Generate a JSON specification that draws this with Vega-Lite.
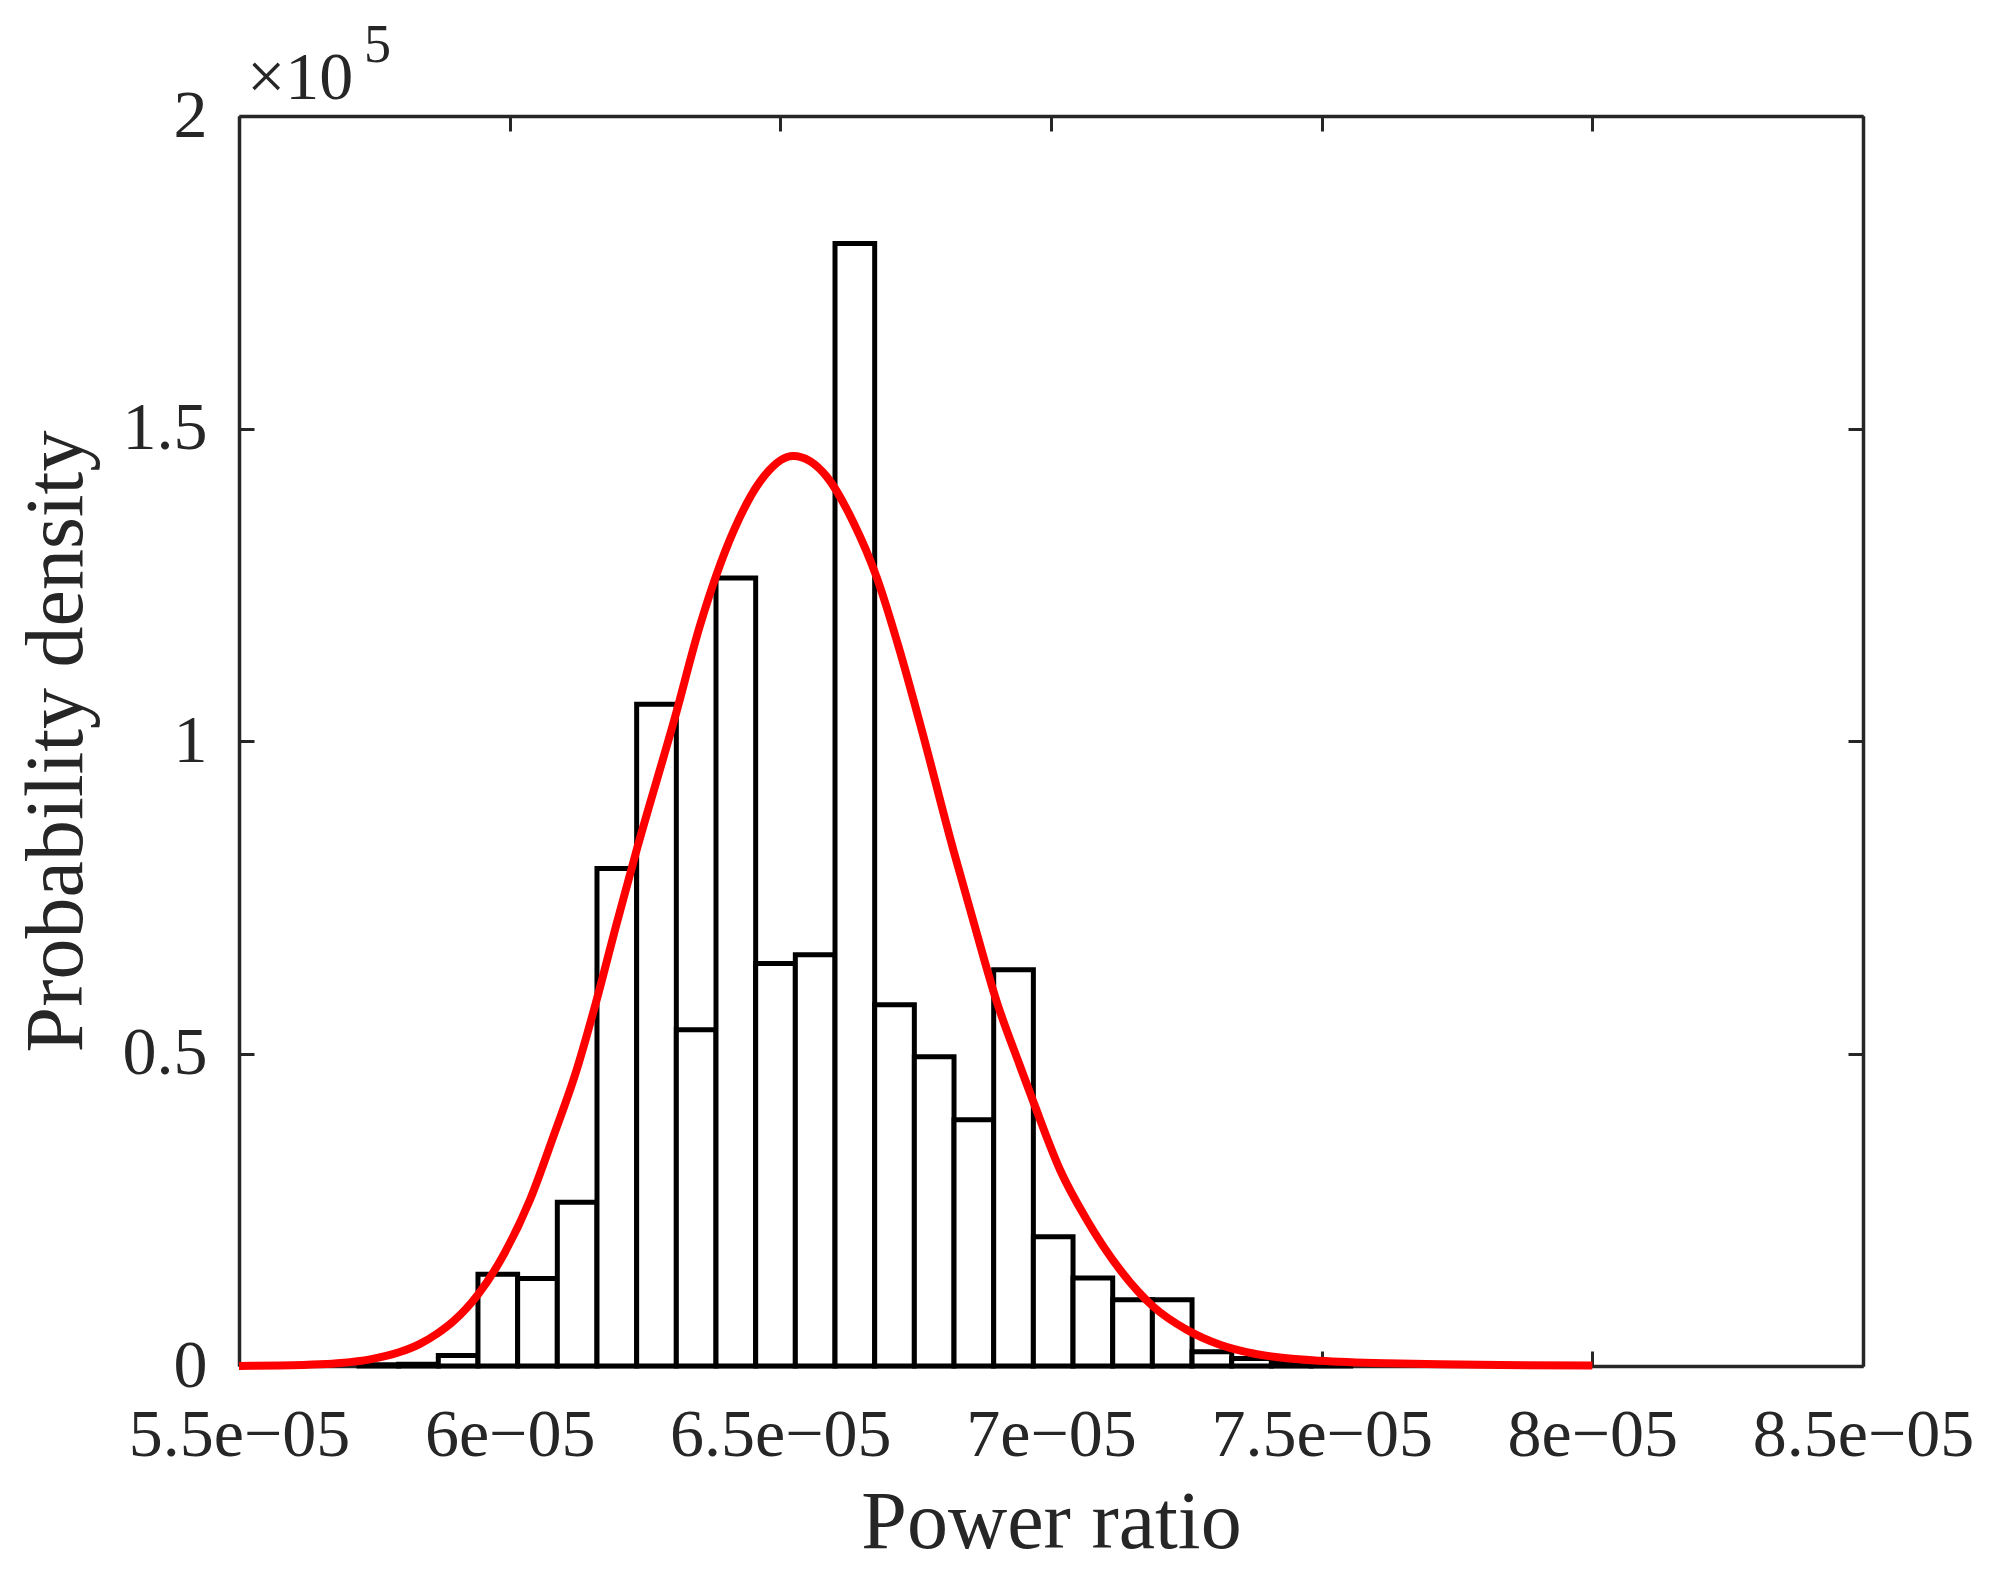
{
  "$schema": "https://vega.github.io/schema/vega-lite/v6.json",
  "autosize": {"type": "none"},
  "padding": {"left": 239, "top": 116, "right": 133, "bottom": 208},
  "width": 1624,
  "height": 1250,
  "background": "white",
  "datasets": {
    "bins": [
      {"x0": 5.72160e-5, "x1": 5.79488e-5, "density": 200},
      {"x0": 5.79488e-5, "x1": 5.86817e-5, "density": 300},
      {"x0": 5.86817e-5, "x1": 5.94145e-5, "density": 1680},
      {"x0": 5.94145e-5, "x1": 6.01473e-5, "density": 14700},
      {"x0": 6.01473e-5, "x1": 6.08802e-5, "density": 14000},
      {"x0": 6.08802e-5, "x1": 6.16130e-5, "density": 26200},
      {"x0": 6.16130e-5, "x1": 6.23458e-5, "density": 79600},
      {"x0": 6.23458e-5, "x1": 6.30787e-5, "density": 105900},
      {"x0": 6.30787e-5, "x1": 6.38115e-5, "density": 53800},
      {"x0": 6.38115e-5, "x1": 6.45443e-5, "density": 126100},
      {"x0": 6.45443e-5, "x1": 6.52772e-5, "density": 64400},
      {"x0": 6.52772e-5, "x1": 6.60100e-5, "density": 65800},
      {"x0": 6.60100e-5, "x1": 6.67428e-5, "density": 179600},
      {"x0": 6.67428e-5, "x1": 6.74757e-5, "density": 57800},
      {"x0": 6.74757e-5, "x1": 6.82085e-5, "density": 49500},
      {"x0": 6.82085e-5, "x1": 6.89413e-5, "density": 39400},
      {"x0": 6.89413e-5, "x1": 6.96742e-5, "density": 63400},
      {"x0": 6.96742e-5, "x1": 7.04070e-5, "density": 20700},
      {"x0": 7.04070e-5, "x1": 7.11398e-5, "density": 14100},
      {"x0": 7.11398e-5, "x1": 7.18727e-5, "density": 10600},
      {"x0": 7.18727e-5, "x1": 7.26055e-5, "density": 10600},
      {"x0": 7.26055e-5, "x1": 7.33383e-5, "density": 2300},
      {"x0": 7.33383e-5, "x1": 7.40712e-5, "density": 1200},
      {"x0": 7.40712e-5, "x1": 7.48040e-5, "density": 700},
      {"x0": 7.48040e-5, "x1": 7.55368e-5, "density": 600}
    ],
    "fit": [
      {"ratio": 5.5000e-5, "pdf": 20},
      {"ratio": 5.5757e-5, "pdf": 76},
      {"ratio": 5.6496e-5, "pdf": 264},
      {"ratio": 5.6884e-5, "pdf": 486},
      {"ratio": 5.7420e-5, "pdf": 1060},
      {"ratio": 5.7956e-5, "pdf": 2190},
      {"ratio": 5.8344e-5, "pdf": 3550},
      {"ratio": 5.8658e-5, "pdf": 5160},
      {"ratio": 5.8959e-5, "pdf": 7150},
      {"ratio": 5.9421e-5, "pdf": 11500},
      {"ratio": 5.9882e-5, "pdf": 17700},
      {"ratio": 6.0376e-5, "pdf": 26600},
      {"ratio": 6.0806e-5, "pdf": 36700},
      {"ratio": 6.1238e-5, "pdf": 47400},
      {"ratio": 6.1608e-5, "pdf": 58600},
      {"ratio": 6.1977e-5, "pdf": 70800},
      {"ratio": 6.2347e-5, "pdf": 82600},
      {"ratio": 6.3054e-5, "pdf": 103800},
      {"ratio": 6.3516e-5, "pdf": 118500},
      {"ratio": 6.4131e-5, "pdf": 133500},
      {"ratio": 6.4624e-5, "pdf": 141500},
      {"ratio": 6.5240e-5, "pdf": 145600},
      {"ratio": 6.5857e-5, "pdf": 142300},
      {"ratio": 6.6348e-5, "pdf": 135000},
      {"ratio": 6.6780e-5, "pdf": 126200},
      {"ratio": 6.7211e-5, "pdf": 114300},
      {"ratio": 6.7580e-5, "pdf": 102800},
      {"ratio": 6.8195e-5, "pdf": 82600},
      {"ratio": 6.8565e-5, "pdf": 71200},
      {"ratio": 6.8997e-5, "pdf": 58300},
      {"ratio": 6.9427e-5, "pdf": 48000},
      {"ratio": 6.9686e-5, "pdf": 42000},
      {"ratio": 7.0166e-5, "pdf": 31400},
      {"ratio": 7.0660e-5, "pdf": 23400},
      {"ratio": 7.1275e-5, "pdf": 15400},
      {"ratio": 7.1890e-5, "pdf": 9500},
      {"ratio": 7.2507e-5, "pdf": 5800},
      {"ratio": 7.3122e-5, "pdf": 3400},
      {"ratio": 7.3737e-5, "pdf": 2000},
      {"ratio": 7.4354e-5, "pdf": 1250},
      {"ratio": 7.4969e-5, "pdf": 850},
      {"ratio": 7.6201e-5, "pdf": 430},
      {"ratio": 7.7186e-5, "pdf": 270},
      {"ratio": 7.8295e-5, "pdf": 150},
      {"ratio": 8.0000e-5, "pdf": 80}
    ],
    "note": [
      {"ratio": 5.5e-5, "pdf": 200000, "base": "×10", "exp": "5"}
    ]
  },
  "config": {
    "view": {"stroke": null},
    "axis": {
      "labelFont": "Liberation Serif",
      "titleFont": "Liberation Serif",
      "labelFontSize": 68,
      "titleFontSize": 82,
      "titleFontWeight": "normal",
      "labelColor": "#262626",
      "titleColor": "#262626",
      "domainColor": "#262626",
      "domainWidth": 3.5,
      "tickColor": "#262626",
      "tickWidth": 3,
      "tickSize": -15,
      "grid": false,
      "labelFlush": false,
      "labelOverlap": false,
      "labelLimit": 1000
    }
  },
  "layer": [
    {
      "data": {"name": "bins"},
      "mark": {"type": "rect", "fill": "white", "stroke": "black", "strokeWidth": 5},
      "encoding": {
        "x": {
          "field": "x0",
          "type": "quantitative",
          "scale": {"domain": [0.000055, 0.000085], "nice": false, "zero": false},
          "axis": {
            "orient": "bottom",
            "values": [0.000055, 0.00006, 0.000065, 0.00007, 0.000075, 0.00008, 0.000085],
            "labelExpr": "format(datum.value * 100000, '~g') + 'e−05'",
            "labelPadding": 50,
            "title": "Power ratio",
            "titlePadding": 13
          }
        },
        "x2": {"field": "x1"},
        "y": {
          "field": "density",
          "type": "quantitative",
          "scale": {"domain": [0, 200000], "nice": false},
          "axis": {
            "orient": "left",
            "values": [0, 50000, 100000, 150000, 200000],
            "labelExpr": "format(datum.value / 100000, '~g')",
            "labelPadding": 47,
            "title": "Probability density",
            "titlePadding": 24
          }
        },
        "y2": {"datum": 0}
      }
    },
    {
      "data": {"name": "fit"},
      "mark": {"type": "line", "color": "#FF0000", "strokeWidth": 8, "interpolate": "monotone"},
      "encoding": {
        "x": {
          "field": "ratio",
          "type": "quantitative",
          "axis": {
            "orient": "top",
            "values": [0.000055, 0.00006, 0.000065, 0.00007, 0.000075, 0.00008, 0.000085],
            "labels": false,
            "title": null
          }
        },
        "y": {
          "field": "pdf",
          "type": "quantitative",
          "axis": {
            "orient": "right",
            "values": [0, 50000, 100000, 150000, 200000],
            "labels": false,
            "title": null
          }
        }
      }
    },
    {
      "data": {"name": "note"},
      "mark": {"type": "text", "font": "Liberation Serif", "fontSize": 68, "align": "left", "baseline": "alphabetic", "dx": 8, "dy": -17, "color": "#262626"},
      "encoding": {
        "x": {"field": "ratio", "type": "quantitative", "axis": null},
        "y": {"field": "pdf", "type": "quantitative", "axis": null},
        "text": {"field": "base"}
      }
    },
    {
      "data": {"name": "note"},
      "mark": {"type": "text", "font": "Liberation Serif", "fontSize": 54, "align": "left", "baseline": "alphabetic", "dx": 125, "dy": -54, "color": "#262626"},
      "encoding": {
        "x": {"field": "ratio", "type": "quantitative", "axis": null},
        "y": {"field": "pdf", "type": "quantitative", "axis": null},
        "text": {"field": "exp"}
      }
    }
  ],
  "resolve": {"axis": {"x": "independent", "y": "independent"}}
}
